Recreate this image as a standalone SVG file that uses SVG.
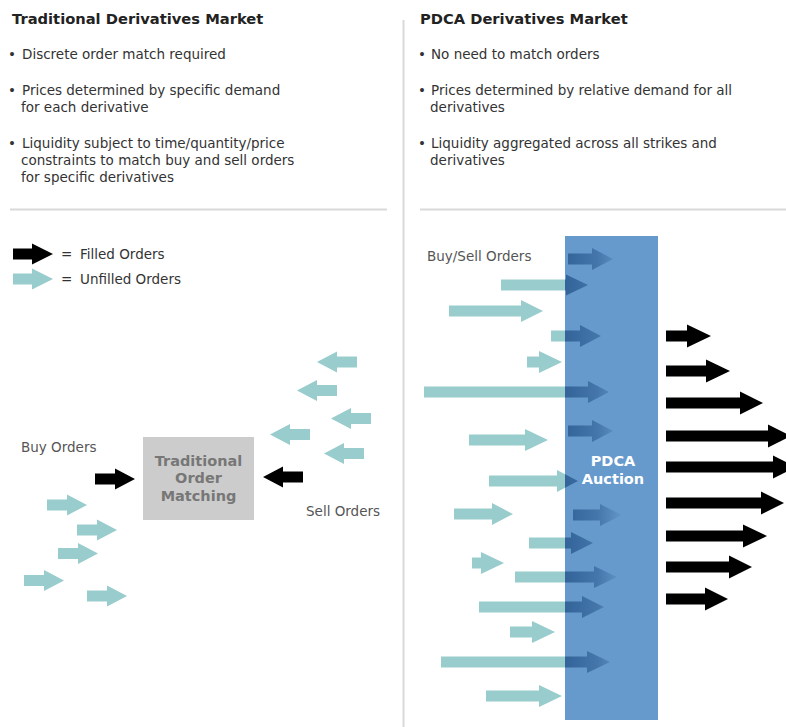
<svg xmlns="http://www.w3.org/2000/svg" width="786" height="727" viewBox="0 0 786 727">
<defs>
<style>
text{font-family:"DejaVu Sans","Liberation Sans",sans-serif}
.title{font-size:14.7px;font-weight:bold;fill:#222}
.body{font-size:13.5px;fill:#333}
.bul{font-size:13.5px;fill:#333}
.lbl{font-size:13.5px;fill:#555}
.boxt{font-size:14.5px;font-weight:bold;fill:#777;text-anchor:middle}
.pdt{font-size:14.5px;font-weight:bold;fill:#fff;text-anchor:middle}
.teal{fill:#99cccc}
.blk{fill:#000}
.shade{fill:url(#fade)}
.rule{fill:#d9d9d9}
</style>
<linearGradient id="fade" gradientUnits="userSpaceOnUse" x1="565" y1="0" x2="624" y2="0">
<stop offset="0" stop-color="#2a5a90" stop-opacity="0.85"/>
<stop offset="0.55" stop-color="#2a5a90" stop-opacity="0.55"/>
<stop offset="1" stop-color="#2a5a90" stop-opacity="0"/>
</linearGradient>
<clipPath id="boxclip"><rect x="565" y="236" width="93" height="484"/></clipPath>
</defs>
<rect width="786" height="727" fill="#fff"/>

<!-- rules -->
<g id="rules">
<rect class="rule" x="402.5" y="20" width="2" height="707"/>
<rect class="rule" x="10" y="208.5" width="377" height="2"/>
<rect class="rule" x="420" y="208.5" width="366" height="2"/>
</g>

<!-- left header -->
<g id="left-text">
<text class="title" x="12" y="24">Traditional Derivatives Market</text>
<text class="bul" x="8" y="59">•</text>
<text class="body" x="22" y="59">Discrete order match required</text>
<text class="bul" x="8" y="95">•</text>
<text class="body" x="22" y="95">Prices determined by specific demand</text>
<text class="body" x="21" y="112">for each derivative</text>
<text class="bul" x="8" y="148">•</text>
<text class="body" x="22" y="148">Liquidity subject to time/quantity/price</text>
<text class="body" x="21" y="165">constraints to match buy and sell orders</text>
<text class="body" x="21" y="182">for specific derivatives</text>
</g>

<!-- right header -->
<g id="right-text">
<text class="title" x="420" y="24">PDCA Derivatives Market</text>
<text class="bul" x="418" y="59">•</text>
<text class="body" x="431" y="59">No need to match orders</text>
<text class="bul" x="418" y="95">•</text>
<text class="body" x="431" y="95">Prices determined by relative demand for all</text>
<text class="body" x="430" y="112">derivatives</text>
<text class="bul" x="418" y="148">•</text>
<text class="body" x="431" y="148">Liquidity aggregated across all strikes and</text>
<text class="body" x="430" y="165">derivatives</text>
</g>

<!-- legend -->
<g id="legend">
<path class="blk" d="M13 248.5H32V243.5L53 254L32 264.5V259.5H13Z"/>
<path class="teal" d="M13 273.5H32V268.5L53 279L32 289.5V284.5H13Z"/>
<text class="body" x="61" y="259">=</text>
<text class="body" x="80" y="259">Filled Orders</text>
<text class="body" x="61" y="284">=</text>
<text class="body" x="80" y="284">Unfilled Orders</text>
</g>

<!-- left labels -->
<g id="labels-left">
<text class="lbl" x="21" y="452">Buy Orders</text>
<text class="lbl" x="306" y="516">Sell Orders</text>
</g>

<!-- traditional box -->
<g id="traditional-matching">
<rect x="143" y="437" width="111" height="83" fill="#cccccc"/>
<text class="boxt" x="198.5" y="465.5">Traditional</text>
<text class="boxt" x="198.5" y="483">Order</text>
<text class="boxt" x="198.5" y="500.5">Matching</text>
</g>

<!-- left connectors -->
<g id="connectors-left">
<path class="teal" d="M47 499.5H67V494.5L87 505L67 515.5V510.5H47Z"/>
<path class="teal" d="M77 524.5H97V519.5L117 530L97 540.5V535.5H77Z"/>
<path class="teal" d="M58 548H78V543L98 553.5L78 564V559H58Z"/>
<path class="teal" d="M24 575H44V570L64 580.5L44 591V586H24Z"/>
<path class="teal" d="M87 590.5H107V585.5L127 596L107 606.5V601.5H87Z"/>
<path class="teal" d="M357 356.5H337V351.5L317 362L337 372.5V367.5H357Z"/>
<path class="teal" d="M337 385H317V380L297 390.5L317 401V396H337Z"/>
<path class="teal" d="M371 413H351V408L331 418.5L351 429V424H371Z"/>
<path class="teal" d="M310 429H290V424L270 434.5L290 445V440H310Z"/>
<path class="teal" d="M364 448H344V443L324 453.5L344 464V459H364Z"/>
<path class="blk" d="M95 473.5H115V468.5L135 479L115 489.5V484.5H95Z"/>
<path class="blk" d="M303 471.5H283V466.5L263 477L283 487.5V482.5H303Z"/>
</g>

<!-- right label -->
<g id="labels-right">
<text class="lbl" x="427" y="261">Buy/Sell Orders</text>
</g>

<!-- right incoming teal arrows -->
<g id="connectors-right-in">
<path class="teal" d="M501 279.5H566V274.5L588 285L566 295.5V290.5H501Z"/>
<path class="teal" d="M449 305.5H521V300L543 311L521 322V316.5H449Z"/>
<path class="teal" d="M551 330.5H580V325L601 336L580 347V341.5H551Z"/>
<path class="teal" d="M527 356.5H539V351L562 362L539 373V367.5H527Z"/>
<path class="teal" d="M424 386.5H588V381L609 392L588 403V397.5H424Z"/>
<path class="teal" d="M469 434.5H525V429L548 440L525 451V445.5H469Z"/>
<path class="teal" d="M489 475.5H557V470L578 481L557 492V486.5H489Z"/>
<path class="teal" d="M454 508.5H492V503L513 514L492 525V519.5H454Z"/>
<path class="teal" d="M529 537.5H571V532L593 543L571 554V548.5H529Z"/>
<path class="teal" d="M472 557.5H481V552L504 563L481 574V568.5H472Z"/>
<path class="teal" d="M515 571.5H594V566L617 577L594 588V582.5H515Z"/>
<path class="teal" d="M479 601.5H582V596L604 607L582 618V612.5H479Z"/>
<path class="teal" d="M510 626.5H532V621L555 632L532 643V637.5H510Z"/>
<path class="teal" d="M441 656.5H587V651L610 662L587 673V667.5H441Z"/>
<path class="teal" d="M486 690.5H539V685L562 696L539 707V701.5H486Z"/>
</g>

<!-- PDCA auction box -->
<g id="pdca-auction">
<rect x="565" y="236" width="93" height="484" fill="#6699cc"/>
<text class="pdt" x="613" y="466">PDCA</text>
<text class="pdt" x="613" y="483.5">Auction</text>
</g>

<!-- shaded arrow parts inside box -->
<g id="connectors-right-inside" clip-path="url(#boxclip)">
<path class="shade" d="M568 253.5H592V248L613 259L592 270V264.5H568Z"/>
<path class="shade" d="M501 279.5H566V274.5L588 285L566 295.5V290.5H501Z"/>
<path class="shade" d="M551 330.5H580V325L601 336L580 347V341.5H551Z"/>
<path class="shade" d="M424 386.5H588V381L609 392L588 403V397.5H424Z"/>
<path class="shade" d="M568 425.5H592V420L613 431L592 442V436.5H568Z"/>
<path class="shade" d="M489 475.5H557V470L578 481L557 492V486.5H489Z"/>
<path class="shade" d="M573 509.5H600V504L622 515L600 526V520.5H573Z"/>
<path class="shade" d="M529 537.5H571V532L593 543L571 554V548.5H529Z"/>
<path class="shade" d="M515 571.5H594V566L617 577L594 588V582.5H515Z"/>
<path class="shade" d="M479 601.5H582V596L604 607L582 618V612.5H479Z"/>
<path class="shade" d="M441 656.5H587V651L610 662L587 673V667.5H441Z"/>
</g>

<!-- outgoing filled orders -->
<g id="connectors-right-out">
<path class="blk" d="M666 330.5H687V324.5L711 336L687 347.5V341.5H666Z"/>
<path class="blk" d="M666 365.5H706V359.5L730 371L706 382.5V376.5H666Z"/>
<path class="blk" d="M666 397.5H740V391.5L763 403L740 414.5V408.5H666Z"/>
<path class="blk" d="M666 430.5H768V424.5L791 436L768 447.5V441.5H666Z"/>
<path class="blk" d="M666 461.5H773V455.5L796 467L773 478.5V472.5H666Z"/>
<path class="blk" d="M666 497.5H761V491.5L784 503L761 514.5V508.5H666Z"/>
<path class="blk" d="M666 530.5H743V524.5L767 536L743 547.5V541.5H666Z"/>
<path class="blk" d="M666 561.5H729V555.5L752 567L729 578.5V572.5H666Z"/>
<path class="blk" d="M666 593.5H705V587.5L728 599L705 610.5V604.5H666Z"/>
</g>
</svg>
